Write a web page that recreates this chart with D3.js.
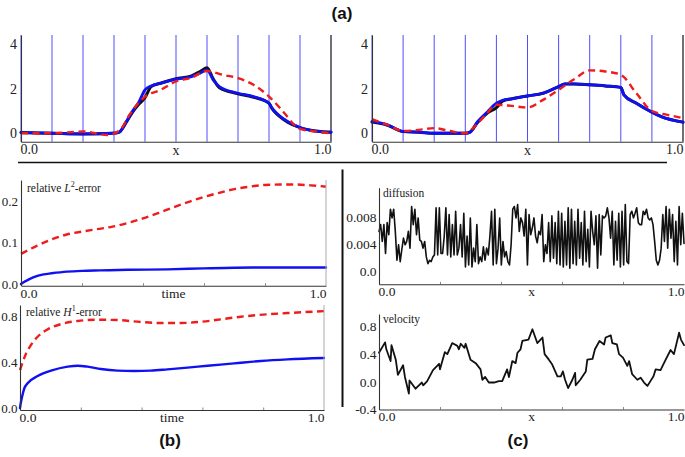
<!DOCTYPE html>
<html><head><meta charset="utf-8">
<script src="https://cdn.jsdelivr.net/npm/d3@7/dist/d3.min.js"></script>
<style>body{margin:0;background:#fff}svg{display:block}</style>
</head><body>
<script>
// ---------- DATA ----------
const gridX = [0,0.1,0.2,0.3,0.4,0.5,0.6,0.7,0.8,0.9,1.0];
const xTickLabels = ["0.0","1.0"];
const minorTicks = [0.2,0.4,0.6,0.8];

// Panel (a) left
const aLX = [0,0.1,0.2,0.3,0.317,0.34,0.36,0.38,0.4,0.42,0.45,0.5,0.55,0.58,0.6,0.62,0.64,0.7,0.75,0.8,0.81,0.83,0.86,0.9,0.95,1.0];
const aLBlack = [0.03,0,-0.03,0,0.05,0.5,0.95,1.3,1.6,2.1,2.25,2.45,2.58,2.8,2.95,2.45,2.05,1.78,1.62,1.35,1.1,0.8,0.5,0.25,0.1,0.05];
const aLBlue  = [0.03,0,-0.03,0,0.05,0.53,1.0,1.4,1.95,2.13,2.25,2.43,2.55,2.72,2.85,2.4,2.1,1.8,1.65,1.35,1.13,0.83,0.53,0.26,0.1,0.05];
const aLRedX = [0,0.1,0.2,0.28,0.32,0.35,0.4,0.45,0.5,0.55,0.6,0.65,0.7,0.75,0.8,0.85,0.88,0.9,0.95,1.0];
const aLRed  = [0,0,0.08,-0.08,0.15,0.83,1.65,1.95,2.33,2.5,2.8,2.63,2.48,2.18,1.65,0.9,0.4,0.2,0.08,0];

// Panel (a) right
const aRX = [0,0.05,0.1,0.15,0.2,0.3,0.315,0.34,0.37,0.4,0.42,0.45,0.5,0.55,0.6,0.62,0.65,0.7,0.75,0.8,0.81,0.85,0.9,0.93,1.0];
const aRBlack = [0.5,0.36,0.08,0.05,0,0,0.05,0.5,0.9,1.15,1.45,1.55,1.68,1.8,2.1,2.22,2.22,2.18,2.13,2.06,1.73,1.35,0.95,0.75,0.5];
const aRBlue  = [0.53,0.38,0.08,0.05,0,0,0.05,0.53,0.95,1.35,1.48,1.55,1.68,1.8,2.1,2.22,2.22,2.18,2.13,2.06,1.73,1.35,0.95,0.75,0.5];
const aRRedX = [0,0.05,0.1,0.15,0.2,0.25,0.3,0.33,0.37,0.4,0.45,0.5,0.55,0.6,0.65,0.7,0.75,0.8,0.85,0.9,0.95,1.0];
const aRRed  = [0.63,0.38,0.1,0.15,0.23,0.1,0,0.3,0.9,1.28,1.23,1.16,1.5,1.95,2.43,2.83,2.78,2.63,1.8,1.0,0.83,0.68];

// Panel (b) relative L2-error
const bL2RedT = [0,0.05,0.1,0.15,0.2,0.25,0.3,0.35,0.4,0.45,0.5,0.55,0.6,0.65,0.7,0.75,0.8,0.85,0.9,0.95,1];
const bL2Red  = [0.073,0.092,0.108,0.12,0.127,0.133,0.139,0.148,0.159,0.172,0.186,0.199,0.211,0.221,0.23,0.236,0.24,0.241,0.241,0.239,0.236];
const bL2BlueT = [0,0.01,0.02,0.04,0.074,0.1,0.15,0.2,0.26,0.35,0.48,0.6,0.7,0.8,0.9,1];
const bL2Blue  = [0,0.005,0.009,0.016,0.0235,0.026,0.030,0.032,0.033,0.0345,0.0356,0.038,0.0396,0.040,0.040,0.040];

// Panel (b) relative H1-error
const bH1RedT = [0,0.009,0.02,0.036,0.058,0.091,0.135,0.19,0.255,0.321,0.398,0.463,0.529,0.595,0.66,0.726,0.814,0.9,1];
const bH1Red  = [0.33,0.40,0.475,0.548,0.62,0.684,0.73,0.757,0.768,0.765,0.748,0.739,0.739,0.75,0.771,0.794,0.815,0.829,0.843];
const bH1BlueT = [0,0.003,0.007,0.014,0.025,0.058,0.102,0.157,0.19,0.222,0.266,0.321,0.376,0.43,0.485,0.551,0.617,0.704,0.792,0.88,1];
const bH1Blue  = [0,0.05,0.1,0.17,0.215,0.278,0.325,0.36,0.368,0.36,0.339,0.325,0.322,0.325,0.336,0.351,0.368,0.388,0.409,0.423,0.435];

// Panel (c) diffusion (evenly spaced in x)
const diffusion = [0.0059,0.0069,0.0044,0.0069,0.0026,0.0072,0.0054,0.0092,0.0079,0.0092,0.0059,0.0016,0.0039,0.0014,0.0032,0.0049,0.0039,0.0044,0.0059,0.0034,0.0096,0.0069,0.0092,0.0054,0.0079,0.0046,0.0044,0.0034,0.0044,0.0021,0.0011,0.0016,0.0014,0.0021,0.0024,0.0094,0.0024,0.0094,0.0026,0.0026,0.0052,0.0094,0.0024,0.0084,0.0021,0.0069,0.0024,0.0089,0.0024,0.0034,0.0069,0.0021,0.0086,0.0006,0.0052,0.0009,0.0079,0.0006,0.0034,0.0014,0.0069,0.0011,0.0021,0.0014,0.0036,0.0016,0.0034,0.0024,0.0052,0.0089,0.0009,0.0092,0.0011,0.0034,0.0079,0.0009,0.0044,0.0021,0.0029,0.0014,0.0009,0.0039,0.0092,0.0096,0.0079,0.0099,0.0059,0.0079,0.0072,0.0052,0.0092,0.0009,0.0084,0.0054,0.0064,0.0079,0.0052,0.0042,0.0059,0.0054,0.0084,0.0014,0.0039,0.0026,0.0072,0.0014,0.0082,0.0019,0.0072,0.0011,0.0089,0.0009,0.0086,0.0006,0.0074,0.0009,0.0094,0.0004,0.0092,0.0011,0.0074,0.0009,0.0092,0.0019,0.0072,0.0009,0.0089,0.0014,0.0062,0.0006,0.0089,0.0059,0.0039,0.0082,0.0004,0.0084,0.0024,0.0082,0.0079,0.0082,0.0094,0.0079,0.0049,0.0089,0.0009,0.0074,0.0016,0.0086,0.0006,0.0089,0.0009,0.0099,0.0014,0.0011,0.0084,0.0089,0.0079,0.0086,0.0094,0.0072,0.0069,0.0069,0.0089,0.0084,0.0092,0.0079,0.0076,0.0079,0.0069,0.0044,0.0016,0.0009,0.0016,0.0034,0.0084,0.0044,0.0096,0.0034,0.0092,0.0049,0.0084,0.0014,0.0074,0.0009,0.0096,0.0039,0.0086,0.0041];

// Panel (c) velocity
const velX = [0,0.02,0.024,0.038,0.041,0.055,0.062,0.079,0.085,0.098,0.10,0.12,0.14,0.145,0.158,0.177,0.197,0.20,0.216,0.224,0.24,0.257,0.262,0.268,0.28,0.284,0.30,0.317,0.333,0.339,0.348,0.36,0.377,0.393,0.404,0.42,0.426,0.437,0.448,0.454,0.464,0.47,0.49,0.503,0.519,0.536,0.543,0.557,0.568,0.585,0.596,0.603,0.61,0.62,0.634,0.643,0.645,0.66,0.678,0.683,0.70,0.708,0.723,0.738,0.743,0.76,0.765,0.78,0.787,0.80,0.814,0.82,0.83,0.847,0.858,0.869,0.88,0.89,0.90,0.907,0.923,0.94,0.956,0.967,0.984,0.99,1.0];
const velY = [0.42,0.57,0.47,0.30,0.53,0.32,0.10,0.24,0.07,-0.17,0.02,-0.10,-0.01,-0.05,0.01,0.17,0.26,0.18,0.43,0.40,0.56,0.52,0.47,0.55,0.49,0.55,0.32,0.27,0.18,0.03,0.07,-0.01,-0.01,0.01,0.01,0.18,0.07,0.30,0.27,0.42,0.47,0.59,0.61,0.76,0.56,0.64,0.40,0.32,0.25,0.08,0.08,0.15,0.03,-0.09,0.03,0.13,-0.05,0.03,0.15,0.32,0.33,0.47,0.59,0.54,0.64,0.67,0.56,0.54,0.40,0.35,0.23,0.30,0.11,0.03,0.06,-0.01,-0.06,0.01,0.08,0.18,0.17,0.32,0.46,0.40,0.71,0.61,0.53];

const aYTicks = [0,2,4], aYLabels = ["0","2","4"];
const bTopYTicks = [0,0.1,0.2], bTopYLabels = ["0.0","0.1","0.2"];
const bBotYTicks = [0,0.4,0.8], bBotYLabels = ["0.0","0.4","0.8"];
const cDiffYTicks = [0,0.004,0.008], cDiffYLabels = ["0.0","0.004","0.008"];
const cVelYTicks = [-0.4,0,0.4,0.8], cVelYLabels = ["-0.4","0.0","0.4","0.8"];

// ---------- DRAW ----------
const SERIF = '"Liberation Serif","Times New Roman",serif';
const SANS = '"Liberation Sans",Arial,sans-serif';
const BLUE = "#1010f0", RED = "#ee1c1c", BLACK = "#111";
const svg = d3.select("body").append("svg").attr("width",685).attr("height",457);

function panel(p){
  const x = d3.scaleLinear().domain([0,1]).range([p.left,p.right]);
  const y = d3.scaleLinear().domain(p.yDomain).range([p.bottom,p.top]);
  const g = svg.append("g");
  return {x,y,g,p};
}
function drawLine(P, xs, ys, color, width, dash, curve){
  const line = d3.line().x(d=>P.x(d[0])).y(d=>P.y(d[1])).curve(curve||d3.curveMonotoneX);
  P.g.append("path").datum(d3.zip(xs,ys)).attr("d",line)
    .attr("fill","none").attr("stroke",color).attr("stroke-width",width)
    .attr("stroke-linejoin","round").attr("stroke-linecap", dash?"butt":"round")
    .attr("stroke-dasharray",dash||null);
}
function axes(P){
  const {x,y,g,p} = P;
  if (p.minor){
    const mg = g.append("g").attr("transform",`translate(0,${p.bottom})`)
      .call(d3.axisBottom(x).tickValues(minorTicks).tickSize(-2.5).tickFormat(""));
    mg.select(".domain").remove();
    mg.selectAll("line").attr("stroke","#888");
  }
  if (p.frame){
    g.append("line").attr("x1",p.right).attr("x2",p.right).attr("y1",p.top).attr("y2",p.bottom)
      .attr("stroke","#aaa").attr("stroke-width",1);
  }
  const yg = g.append("g").attr("transform",`translate(${p.left},0)`)
    .call(d3.axisLeft(y).tickValues(p.yTicks).tickFormat((d,i)=>p.yLabels[i]).tickSize(0).tickSizeOuter(0).tickPadding(p.yPad));
  yg.select(".domain").attr("stroke","#333").attr("stroke-width",1.1);
  yg.selectAll("text").attr("font-family",SERIF).attr("font-size",p.yfs||p.fs).attr("fill","#222");
  const xg = g.append("g").attr("transform",`translate(0,${p.bottom})`)
    .call(d3.axisBottom(x).tickValues([0,1]).tickFormat((d,i)=>xTickLabels[i]).tickSize(0).tickSizeOuter(0));
  xg.select(".domain").attr("stroke","#333").attr("stroke-width",1.1);
  xg.selectAll("text").attr("font-family",SERIF).attr("font-size",p.fs).attr("fill","#222")
    .attr("dy",0).attr("y",p.xLab)
    .attr("text-anchor",(d,i)=>i===0?"start":"end").attr("dx",(d,i)=>i===0?-1:0);
  g.append("text").attr("x",(p.left+p.right)/2 + (p.nameDx||0)).attr("y",p.bottom+p.xLab)
    .attr("text-anchor","middle").attr("font-family",SERIF).attr("font-size",p.fs).attr("fill","#222")
    .text(p.xName);
}

// (a) panels
const aCfg = {top:35,bottom:141.7,yDomain:[-0.38,4.42],yTicks:aYTicks,yLabels:aYLabels,yPad:4,fs:14,xLab:12.8,xName:"x"};
const AL = panel(Object.assign({},aCfg,{left:21,right:331}));
const AR = panel(Object.assign({},aCfg,{left:372,right:683}));
[AL,AR].forEach(P=>{
  P.g.selectAll("line.grid").data(gridX).enter().append("line").attr("class","grid")
    .attr("x1",d=>P.x(d)).attr("x2",d=>P.x(d)).attr("y1",P.p.top).attr("y2",P.p.bottom)
    .attr("stroke",(d)=> (d===1? "#223" : "#3030ff")).attr("stroke-width",d=>d===1?1.3:1).attr("opacity",d=>d===1?1:0.85);
});
drawLine(AL, aLX, aLBlack, BLACK, 3);
drawLine(AL, aLX, aLBlue, BLUE, 2.8);
drawLine(AL, aLRedX, aLRed, RED, 2.4, "7,4.5");
drawLine(AR, aRX, aRBlack, BLACK, 3);
drawLine(AR, aRX, aRBlue, BLUE, 2.8);
drawLine(AR, aRRedX, aRRed, RED, 2.4, "7,4.5");
axes(AL); axes(AR);

// (b) panels
const BT = panel({left:21,right:326,top:180,bottom:285.7,yDomain:[-0.004,0.252],yTicks:bTopYTicks,yLabels:bTopYLabels,yPad:3,fs:13.5,yfs:13,xLab:12.3,xName:"time",minor:true,frame:true});
drawLine(BT, bL2RedT, bL2Red, RED, 2.4, "7,4.5");
drawLine(BT, bL2BlueT, bL2Blue, BLUE, 2.4);
axes(BT);
const BB = panel({left:20,right:324,top:305,bottom:410,yDomain:[-0.017,0.896],yTicks:bBotYTicks,yLabels:bBotYLabels,yPad:2.5,fs:13.5,yfs:13,xLab:12,xName:"time",minor:true,frame:true});
drawLine(BB, bH1RedT, bH1Red, RED, 2.4, "7,4.5");
drawLine(BB, bH1BlueT, bH1Blue, BLUE, 2.4);
axes(BB);

// (c) panels
const CD = panel({left:379,right:684,top:187.7,bottom:284.3,yDomain:[-0.00198,0.0124],yTicks:cDiffYTicks,yLabels:cDiffYLabels,yPad:2.5,fs:13.5,xLab:11.7,xName:"x",minor:true});
const diffX = diffusion.map((d,i)=>i/(diffusion.length-1));
drawLine(CD, diffX, diffusion, BLACK, 1.6, null, d3.curveLinear);
axes(CD);
const CV = panel({left:379,right:684,top:314,bottom:409.5,yDomain:[-0.4,0.98],yTicks:cVelYTicks,yLabels:cVelYLabels,yPad:2.5,fs:13.5,xLab:11.5,xName:"x",minor:true});
drawLine(CV, velX, velY, BLACK, 1.8, null, d3.curveLinear);
axes(CV);

// panel titles
function title(x,y,parts){
  const t = svg.append("text").attr("x",x).attr("y",y).attr("font-family",SERIF).attr("font-size",11.5).attr("fill","#222");
  parts.forEach(pt=>{
    const s = t.append("tspan").text(pt.t);
    if (pt.i) s.attr("font-style","italic");
    if (pt.sup) s.attr("font-size",8).attr("dy",-4.5);
    if (pt.after) s.attr("dy",4.5);
  });
}
title(27,191.5,[{t:"relative "},{t:"L",i:true},{t:"2",sup:true},{t:"-error",after:true}]);
title(26,315.5,[{t:"relative "},{t:"H",i:true},{t:"1",sup:true},{t:"-error",after:true}]);
title(383,197,[{t:"diffusion"}]);
title(383,323,[{t:"velocity"}]);

// separators
svg.append("line").attr("x1",18).attr("x2",667).attr("y1",162.5).attr("y2",162.5).attr("stroke","#111").attr("stroke-width",1.4);
svg.append("line").attr("x1",342.5).attr("x2",342.5).attr("y1",169.5).attr("y2",407).attr("stroke","#111").attr("stroke-width",2);

// labels
[["(a)",342,19],["(b)",170,446],["(c)",518,446]].forEach(([s,x,y])=>{
  svg.append("text").attr("x",x).attr("y",y).attr("text-anchor","middle")
    .attr("font-family",SANS).attr("font-weight","bold").attr("font-size",17).attr("fill","#111").text(s);
});
</script>
</body></html>
